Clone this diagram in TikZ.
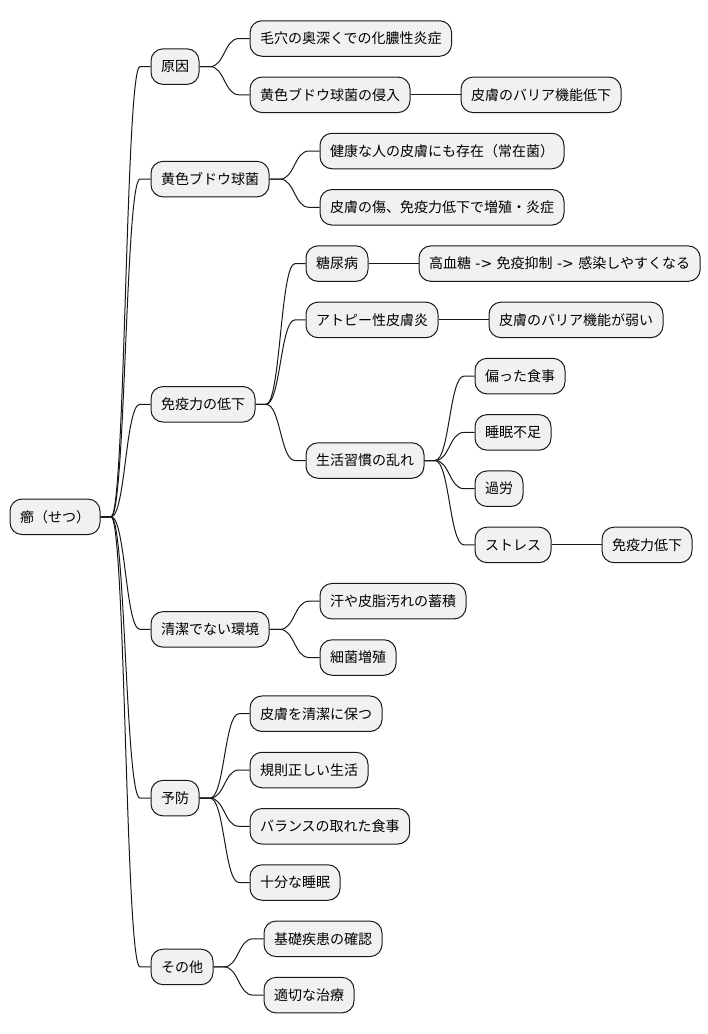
\documentclass[tikz,border=0pt]{standalone}
\usepackage{fontspec}
\setmainfont{Noto Sans CJK JP}
\newfontfamily\latinpart{DejaVu Sans}
\usetikzlibrary{calc}
\definecolor{boxfill}{HTML}{F1F1F1}
\definecolor{boxline}{HTML}{181818}
\tikzset{
 mmbox/.style={draw=boxline, fill=boxfill, line width=1pt, rounded corners=12pt,
   minimum height=35.5pt, inner xsep=10pt, inner ysep=0pt,
   font=\fontsize{14pt}{16pt}\selectfont, anchor=west, text=black},
 mmlink/.style={draw=boxline, line width=1pt},
}
\newcommand\mmchild[5][]{%
  \path let \p1=(#2.east) in node[mmbox,#1] (#3) at (\x1+50pt,-#4pt) {#5};
  \draw[mmlink] (#2.east) -- ++(10.5pt,0) .. controls +(14.5pt,0) and +(-14.5pt,0) .. ($(#3.west)+(-10.5pt,0)$) -- (#3.west);
}
\newcommand\arr{{\latinpart\ -> }}
\begin{document}
\begin{tikzpicture}
\useasboundingbox (0,0) rectangle (708pt,-1034pt);
\node[mmbox] (root) at (9.5pt,-516.8pt) {癤（せつ）};
% level 1
\mmchild{root}{a}{66.6}{原因}
\mmchild{root}{b}{179.1}{黄色ブドウ球菌}
\mmchild{root}{c}{404.3}{免疫力の低下}
\mmchild{root}{d}{629.4}{清潔でない環境}
\mmchild{root}{e}{798.1}{予防}
\mmchild{root}{f}{966.9}{その他}
% 原因
\mmchild{a}{a1}{38.5}{毛穴の奥深くでの化膿性炎症}
\mmchild{a}{a2}{94.8}{黄色ブドウ球菌の侵入}
\mmchild{a2}{a21}{94.8}{皮膚のバリア機能低下}
% 黄色ブドウ球菌
\mmchild{b}{b1}{151}{健康な人の皮膚にも存在（常在菌）}
\mmchild{b}{b2}{207.3}{皮膚の傷、免疫力低下で増殖・炎症}
% 免疫力の低下
\mmchild{c}{c1}{263.6}{糖尿病}
\mmchild{c1}{c11}{263.6}{高血糖\arr 免疫抑制\arr 感染しやすくなる}
\mmchild{c}{c2}{319.9}{アトピー性皮膚炎}
\mmchild{c2}{c21}{319.9}{皮膚のバリア機能が弱い}
\mmchild{c}{c3}{460.5}{生活習慣の乱れ}
\mmchild{c3}{c31}{376.1}{偏った食事}
\mmchild{c3}{c32}{432.4}{睡眠不足}
\mmchild{c3}{c33}{488.7}{過労}
\mmchild{c3}{c34}{544.9}{ストレス}
\mmchild{c34}{c341}{544.9}{免疫力低下}
% 清潔でない環境
\mmchild{d}{d1}{601.2}{汗や皮脂汚れの蓄積}
\mmchild{d}{d2}{657.5}{細菌増殖}
% 予防
\mmchild{e}{e1}{713.7}{皮膚を清潔に保つ}
\mmchild{e}{e2}{770}{規則正しい生活}
\mmchild{e}{e3}{826.3}{バランスの取れた食事}
\mmchild{e}{e4}{882.5}{十分な睡眠}
% その他
\mmchild{f}{f1}{938.8}{基礎疾患の確認}
\mmchild{f}{f2}{995.1}{適切な治療}
\end{tikzpicture}
\end{document}
